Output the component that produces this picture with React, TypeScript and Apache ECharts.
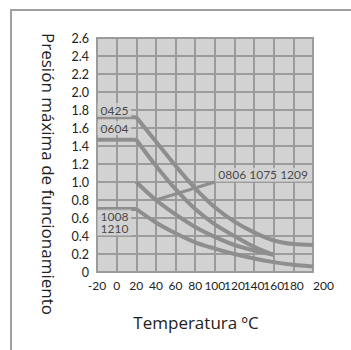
import React, { useEffect, useRef } from "react";
import * as echarts from "echarts";

const xTicks = [-20, 0, 20, 40, 60, 80, 100, 120, 140, 160, 180, 200];
const yTicks = [0, 0.2, 0.4, 0.6, 0.8, 1.0, 1.2, 1.4, 1.6, 1.8, 2.0, 2.2, 2.4, 2.6];

const flat0425: [number, number][] = [[-20, 1.72], [20, 1.72]];
const curve0425: [number, number][] = [[20, 1.72], [40, 1.45], [60, 1.18], [80, 0.93], [100, 0.72], [120, 0.56], [140, 0.44], [160, 0.35], [180, 0.31], [200, 0.3]];
const flat0604: [number, number][] = [[-20, 1.47], [20, 1.47]];
const curve0604: [number, number][] = [[20, 1.47], [40, 1.18], [60, 0.92], [80, 0.7], [100, 0.53], [120, 0.4], [140, 0.28], [160, 0.19]];
const curve0806: [number, number][] = [[20, 1.0], [40, 0.8], [60, 0.64], [80, 0.5], [100, 0.39], [120, 0.3], [140, 0.24], [160, 0.19]];
const flat1008: [number, number][] = [[-20, 0.7], [20, 0.7]];
const curve1008: [number, number][] = [[20, 0.7], [40, 0.55], [60, 0.43], [80, 0.33], [100, 0.26], [120, 0.2], [140, 0.15], [160, 0.11], [180, 0.08], [200, 0.06]];
const leader: [number, number][] = [[40, 0.8], [100, 1.0]];

const labelTexts = ["0425", "0604", "0806 1075 1209", "1008\n1210"];
const labelAnchors: [number, number][] = [[-20, 1.8], [-20, 1.6], [100, 1.08], [-20, 0.55]];

const xTitle = "Temperatura ºC";
const yTitle = "Presión máxima de funcionamiento";

const FONT = "'Liberation Sans Narrow', 'Lato', sans-serif";
const TFONT = "'Open Sans', 'Noto Sans', sans-serif";
const LINE = "#8e8e8e";
const GRIDC = "#9b9b9b";
const BG = "#d2d2d2";

export default function App() {
  const ref = useRef<HTMLDivElement>(null);
  useEffect(() => {
    document.body.style.margin = "0";
    const chart = echarts.init(ref.current!, undefined, { renderer: "svg" });
    const line = (data: [number, number][], smooth: number) => ({
      type: "line",
      data,
      smooth,
      symbol: "none",
      lineStyle: { color: LINE, width: 4 },
      z: 3,
    });
    chart.setOption({
      animation: false,
      grid: {
        left: 97,
        top: 38,
        width: 216,
        height: 234,
        show: true,
        backgroundColor: BG,
        borderColor: GRIDC,
        borderWidth: 2,
      },
      xAxis: {
        type: "value",
        min: -20,
        max: 200,
        interval: 20,
        axisLine: { show: false },
        axisTick: { show: false },
        splitLine: { show: true, lineStyle: { color: GRIDC, width: 2 } },
        axisLabel: {
          fontFamily: FONT,
          fontSize: 12,
          color: "#222",
          margin: 7,
          interval: 0,
          hideOverlap: false,
          showMaxLabel: true,
          showMinLabel: true,
          alignMaxLabel: "left",
          formatter: (v: number) => {
            const t = xTicks.find((x) => Math.abs(x - v) < 1e-6);
            return t === undefined ? "" : String(t);
          },
        },
      },
      yAxis: {
        type: "value",
        min: 0,
        max: 2.6,
        interval: 0.2,
        axisLine: { show: false },
        axisTick: { show: false },
        splitLine: { show: true, lineStyle: { color: GRIDC, width: 2 } },
        axisLabel: {
          fontFamily: FONT,
          fontSize: 12.5,
          color: "#222",
          margin: 8,
          formatter: (v: number) => {
            const t = yTicks.find((y) => Math.abs(y - v) < 1e-6);
            if (t === undefined) return "";
            return t === 0 ? "0" : t.toFixed(1);
          },
        },
      },
      series: [
        line(flat0425, 0),
        line(curve0425, 0.35),
        line(flat0604, 0),
        line(curve0604, 0.35),
        line(curve0806, 0.35),
        line(flat1008, 0),
        line(curve1008, 0.35),
        {
          type: "line",
          data: leader,
          symbol: "none",
          lineStyle: { color: LINE, width: 3 },
          z: 3,
        },
        {
          type: "scatter",
          data: labelAnchors.map((p, i) => ({ value: p, name: labelTexts[i] })),
          symbolSize: 1,
          itemStyle: { color: "transparent" },
          z: 5,
          label: {
            show: true,
            position: "right",
            distance: 0,
            formatter: (p: any) => p.name,
            fontFamily: FONT,
            fontSize: 12,
            lineHeight: 12,
            color: "#222",
            backgroundColor: BG,
            padding: [1, 3, 1, 3],
          },
        },
      ],
      graphic: [
        {
          type: "rect",
          shape: { x: 11, y: 10, width: 400, height: 400 },
          style: { fill: "none", stroke: "#a0a0a0", lineWidth: 2 },
          silent: true,
        },
        {
          type: "text",
          x: 48,
          y: 174,
          rotation: -Math.PI / 2,
          style: {
            text: yTitle,
            fontFamily: TFONT,
            fontSize: 17,
            fill: "#222",
            align: "center",
            verticalAlign: "middle",
          },
        },
        {
          type: "text",
          x: 196,
          y: 322,
          style: {
            text: xTitle,
            fontFamily: TFONT,
            fontSize: 17,
            fill: "#222",
            align: "center",
            verticalAlign: "middle",
          },
        },
      ],
    });
    return () => chart.dispose();
  }, []);
  return <div ref={ref} style={{ width: 351, height: 350 }} />;
}
